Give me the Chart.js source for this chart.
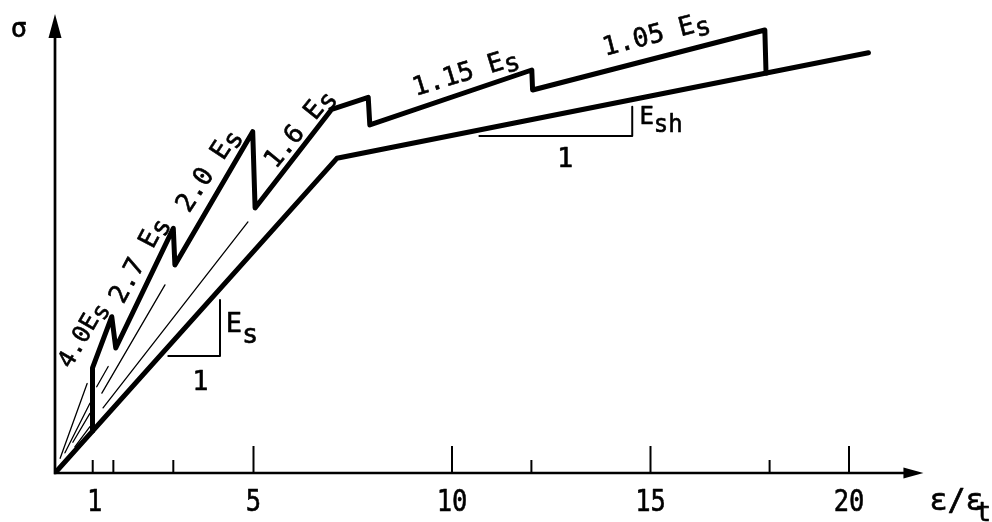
<!DOCTYPE html>
<html>
<head>
<meta charset="utf-8">
<script src="https://cdn.jsdelivr.net/npm/chart.js@4.4.1/dist/chart.umd.min.js"></script>
<style>
html,body{margin:0;padding:0;background:#fff;overflow:hidden}
canvas{display:block}
</style>
</head>
<body>
<canvas id="c" width="992" height="522"></canvas>
<script>
// ---- data (strain ε/εt on x, stress σ in relative units on y) ----
const envelopeStrain = [0, 7.10, 20.49];
const envelopeStress = [0, 68.56, 91.57];

const cyclicStrain = [0.945, 0.945, 1.43, 1.53, 2.98, 3.02, 4.98, 5.04, 6.97, 7.89, 7.93, 12.01, 12.03, 17.88, 17.91];
const cyclicStress = [9.13, 22.88, 34.05, 27.23, 53.30, 45.32, 74.36, 57.73, 79.24, 81.85, 75.82, 87.80, 83.44, 96.51, 87.14];

// thin secant lines from the origin (null = gap)
const secant1Strain = [0.13, 0.81];
const secant1Stress = [3.2, 19.5];
const secant2Strain = [0.25, 0.88, null, 1.05, 1.34];
const secant2Stress = [4.4, 15.2, null, 18.8, 23.2];
const secant3Strain = [0.45, 0.88, null, 1.18, 2.77];
const secant3Stress = [6.7, 13.0, null, 17.4, 41.0];
const secant4Strain = [0.50, 0.88, null, 1.21, 4.86];
const secant4Stress = [5.7, 10.1, null, 14.2, 54.7];

// slope triangles
const esTriStrain = [2.854, 4.156, 4.156];
const esTriStress = [25.49, 25.49, 37.69];
const eshTriStrain = [10.69, 14.54, 14.54];
const eshTriStress = [73.42, 73.42, 79.80];

// axis ticks
const xTickValues = [1, 5, 10, 15, 20];
const xTickLabels = ['1', '5', '10', '15', '20'];
const majorTickStrains = [5, 10, 15, 20];
const minorTickStrains = [0.95, 1.47, 2.98, 12, 18];

// segment modulus labels
const modLabelText = ['4.0', '2.7 ', '2.0 ', '1.6 ', '1.15 ', '1.05 '];
const modLabelStrain = [0.655, 2.065, 3.82, 6.12, 10.33, 15.13];
const modLabelStress = [30.3, 46.6, 66.2, 75.3, 87.6, 95.9];
const modLabelAngle = [60, 62, 57, 51, 17, 14.5];

// ---- chart ----
const FONT = '"DejaVu Sans Mono", "Liberation Mono", monospace';
const pts = (xs, ys) => xs.map((x, i) => ({x: x, y: ys[i]}));
const line = (xs, ys, w) => ({
  data: pts(xs, ys), borderColor: '#000', backgroundColor: '#000', borderWidth: w,
  pointRadius: 0, showLine: true, fill: false, tension: 0, spanGaps: false,
  borderJoinStyle: 'round', borderCapStyle: 'round'
});

function drawRich(ctx, parts, cx, cy, angleDeg, fs, o) {
  o = o || {};
  const sx = o.sx || 1, drop = o.drop || 0, align = o.align || 'center';
  ctx.save();
  ctx.translate(cx, cy);
  ctx.rotate(-angleDeg * Math.PI / 180);
  ctx.scale(sx, 1);
  const f = p => (p[1] ? fs * (o.subScale || 1) : fs) + 'px ' + FONT;
  let w = 0;
  parts.forEach(p => { ctx.font = f(p); w += ctx.measureText(p[0]).width; });
  let x = align === 'center' ? -w / 2 : 0;
  const base = o.baseline ? 0 : fs * 0.73 / 2;
  ctx.textBaseline = 'alphabetic';
  ctx.textAlign = 'left';
  ctx.lineWidth = 0.6;
  ctx.lineJoin = 'round';
  parts.forEach(p => {
    ctx.font = f(p);
    const yy = base + (p[1] ? drop : 0);
    ctx.fillText(p[0], x, yy);
    ctx.strokeText(p[0], x, yy);
    x += ctx.measureText(p[0]).width;
  });
  ctx.restore();
}

const decor = {
  id: 'decor',
  afterDraw(chart) {
    const {ctx, chartArea: ca, scales: {x, y}} = chart;
    const px = v => x.getPixelForValue(v), py = v => y.getPixelForValue(v);
    const ox = px(0), oy = py(0);
    ctx.save();
    ctx.strokeStyle = '#000'; ctx.fillStyle = '#000';
    // axes
    ctx.lineWidth = 2.7; ctx.lineCap = 'butt';
    ctx.beginPath(); ctx.moveTo(ox - 1, oy); ctx.lineTo(ca.right - 16, oy); ctx.stroke();
    ctx.beginPath(); ctx.moveTo(ox, oy + 1.3); ctx.lineTo(ox, ca.top + 18); ctx.stroke();
    ctx.beginPath(); ctx.moveTo(ca.right - 1, oy); ctx.lineTo(ca.right - 21, oy - 5.5); ctx.lineTo(ca.right - 21, oy + 5.5); ctx.closePath(); ctx.fill();
    ctx.beginPath(); ctx.moveTo(ox, ca.top); ctx.lineTo(ox - 6.5, ca.top + 24); ctx.lineTo(ox + 6.5, ca.top + 24); ctx.closePath(); ctx.fill();
    // ticks
    ctx.lineWidth = 2;
    majorTickStrains.forEach(v => { ctx.beginPath(); ctx.moveTo(px(v), oy); ctx.lineTo(px(v), oy - 27); ctx.stroke(); });
    minorTickStrains.forEach(v => { ctx.beginPath(); ctx.moveTo(px(v), oy); ctx.lineTo(px(v), oy - 13); ctx.stroke(); });
    // tick labels
    xTickValues.forEach((v, i) => drawRich(ctx, [[xTickLabels[i], 0]], px(v), oy + 38, 0, 30, {sx: 0.85, baseline: true}));
    // axis titles
    drawRich(ctx, [['σ', 0]], ox - 36, ca.top + 23, 0, 27, {baseline: true});
    drawRich(ctx, [['ε/ε', 0]], ca.right + 5, oy + 37, 0, 30, {baseline: true, align: 'left'});
    drawRich(ctx, [['t', 0]], ca.right + 51, oy + 48, 0, 26, {baseline: true, align: 'left'});
    // modulus labels
    modLabelText.forEach((t, i) => {
      drawRich(ctx, [[t + 'E', 0], ['s', 1]], px(modLabelStrain[i]), py(modLabelStress[i]), modLabelAngle[i], i === 0 ? 24 : 26, {drop: 5});
    });
    // slope triangle labels
    drawRich(ctx, [['E', 0], ['s', 1]], px(4.3), py(30.72), 0, 27, {baseline: true, align: 'left', drop: 11});
    drawRich(ctx, [['1', 0]], px(3.665), py(20.26), 0, 27, {});
    drawRich(ctx, [['E', 0], ['sh', 1]], px(14.72), py(76.14), 0, 24, {baseline: true, align: 'left', drop: 8});
    drawRich(ctx, [['1', 0]], px(12.85), py(68.91), 0, 27, {});
    ctx.restore();
  }
};

new Chart(document.getElementById('c'), {
  type: 'scatter',
  data: {
    datasets: [
      line(envelopeStrain, envelopeStress, 5),
      line(cyclicStrain, cyclicStress, 5),
      line(secant1Strain, secant1Stress, 1.3),
      line(secant2Strain, secant2Stress, 1.3),
      line(secant3Strain, secant3Stress, 1.3),
      line(secant4Strain, secant4Stress, 1.3),
      line(esTriStrain, esTriStress, 2),
      line(eshTriStrain, eshTriStress, 2)
    ]
  },
  options: {
    responsive: false,
    devicePixelRatio: 1,
    animation: false,
    layout: {padding: {left: 55, top: 14, right: 67.57, bottom: 49}},
    plugins: {legend: {display: false}, tooltip: {enabled: false}},
    scales: {
      x: {type: 'linear', min: 0, max: 21.9, display: false},
      y: {type: 'linear', min: 0, max: 100, display: false}
    }
  },
  plugins: [decor]
});
</script>
</body>
</html>
